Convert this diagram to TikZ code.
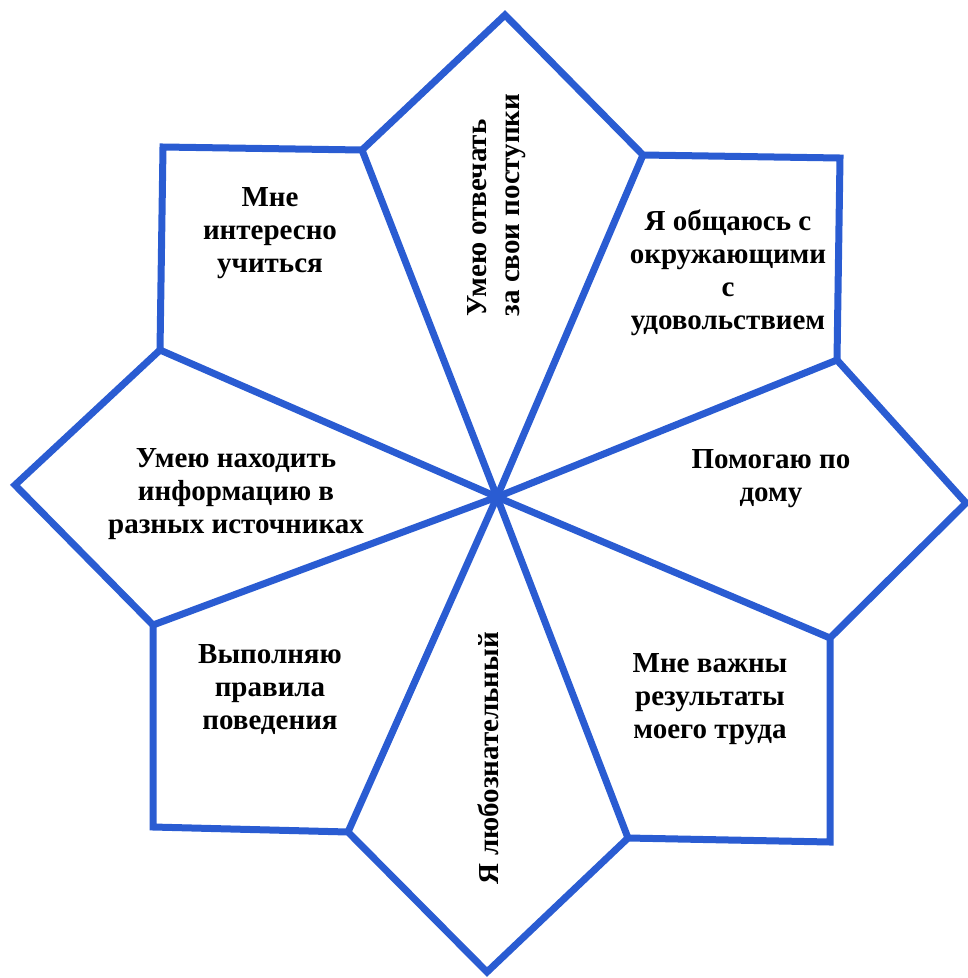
\documentclass[tikz,border=0pt]{standalone}
\usepackage{fontspec}
\setmainfont{Liberation Serif}
\definecolor{petal}{RGB}{42,92,210}
\begin{document}
\begin{tikzpicture}[x=1pt,y=-1pt,
  outline/.style={draw=petal,line width=7pt,line join=miter},
  spoke/.style={draw=petal,line width=7pt,line cap=round},
  lbl/.style={font=\bfseries\fontsize{29}{33}\selectfont,align=center,inner sep=0pt,text=black}]
\useasboundingbox (0,0) rectangle (968,978);
% outer vertices
\coordinate (T) at (505,15);
\coordinate (a1) at (643,155);
\coordinate (b1) at (840,158);
\coordinate (a2) at (837,360);
\coordinate (R) at (966,503);
\coordinate (a3) at (830,638);
\coordinate (b3) at (830,842);
\coordinate (a4) at (628,838);
\coordinate (B) at (487,972);
\coordinate (a5) at (348,832);
\coordinate (b5) at (153,827);
\coordinate (a6) at (153,625);
\coordinate (L) at (15,485);
\coordinate (a7) at (160,350);
\coordinate (b7) at (163,147);
\coordinate (a8) at (362,150);
\coordinate (C) at (497,497);
% outline
\draw[outline] (T) -- (a1) -- (b1) -- (a2) -- (R) -- (a3) -- (b3) -- (a4) -- (B) -- (a5) -- (b5) -- (a6) -- (L) -- (a7) -- (b7) -- (a8) -- cycle;
% spokes
\foreach \p in {a1,a2,a3,a4,a5,a6,a7,a8} \draw[spoke] (C) -- (\p);
% labels
\node[lbl,rotate=90,align=left] (topT) at (497,205) {Умею отвечать\\за свои поступки};
\node[lbl] (trT) at (728,273) {Я общаюсь с\\окружающими\\с\\удовольствием};
\node[lbl] (rT) at (771,479) {Помогаю по\\дому};
\node[lbl] (brT) at (710,699) {Мне важны\\результаты\\моего труда};
\node[lbl,rotate=90] (botT) at (488,758) {Я любознательный};
\node[lbl] (blT) at (270,690) {Выполняю\\правила\\поведения};
\node[lbl] (lT) at (236,494) {Умею находить\\информацию в\\разных источниках};
\node[lbl] (tlT) at (270,233) {Мне\\интересно\\учиться};
\end{tikzpicture}
\end{document}
